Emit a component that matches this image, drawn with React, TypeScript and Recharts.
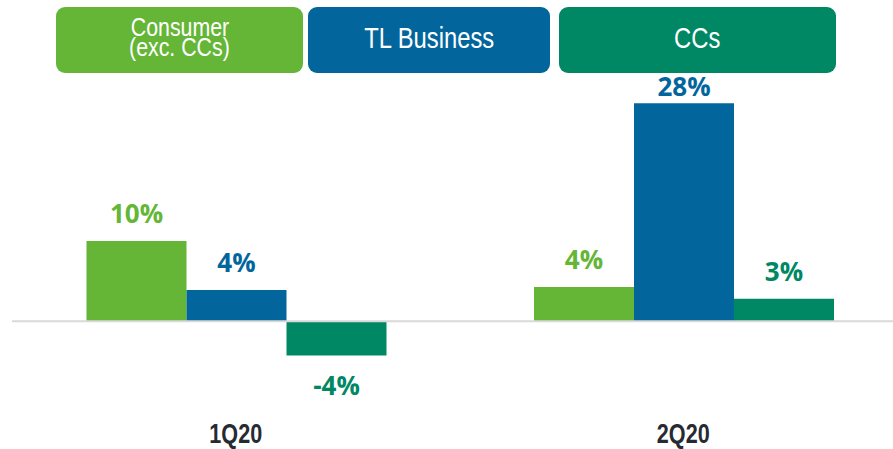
import React from 'react'
import { BarChart, Bar, XAxis, YAxis, ReferenceLine, Legend } from 'recharts'

const QUARTERS = ['1Q20', '2Q20']
const CONSUMER = [10.3, 4.4]
const TL_BUSINESS = [4.0, 28.0]
const CCS = [-4.4, 2.9]
const SERIES_NAMES = ['Consumer\n(exc. CCs)', 'TL Business', 'CCs']

const COLORS = ['#65b637', '#02669c', '#008763']

const data = QUARTERS.map((q, i) => ({
  quarter: q,
  consumer: CONSUMER[i],
  business: TL_BUSINESS[i],
  ccs: CCS[i],
}))

const SANS = '"Liberation Sans", Arial, sans-serif'

const makeLabel = (color: string) => (props: any) => {
  const { x, y, width, height, value } = props
  const top = Math.min(y, y + height)
  const bottom = Math.max(y, y + height)
  const cx = x + width / 2
  // keep positive labels clear of the legend boxes
  const ty = value >= 0 ? Math.max(top - 18, 96) : bottom + 40
  return (
    <text x={cx} y={ty} textAnchor="middle" fill={color} fontFamily='"Open Sans", sans-serif' fontWeight={700} fontSize={26}>
      {`${Math.round(value)}%`}
    </text>
  )
}

const QuarterTick = (props: any) => {
  const { x, payload } = props
  return (
    <text transform={`translate(${x},443) scale(0.8,1)`} x={0} y={0} textAnchor="middle" fill="#262a33" fontFamily={SANS} fontWeight={700} fontSize={27}>
      {payload.value}
    </text>
  )
}

// boxes across the top, laid out by hand like the slide
const BOX_LEFT = [56, 308, 559]
const BOX_WIDTH = [247, 242, 277]

const TopLegend = () => (
  <div style={{ position: 'relative', height: 0 }}>
    {SERIES_NAMES.map((name, i) => {
      const lines = name.split('\n')
      const two = lines.length > 1
      return (
        <div
          key={name}
          style={{
            position: 'absolute', left: BOX_LEFT[i], top: 7, width: BOX_WIDTH[i], height: 66,
            background: COLORS[i], borderRadius: 9, color: '#fff', fontFamily: SANS,
            display: 'flex', flexDirection: 'column', alignItems: 'center', justifyContent: 'center',
            fontSize: two ? 26 : 29, lineHeight: two ? '20px' : '30px', paddingBottom: two ? 6 : 4, boxSizing: 'border-box',
          }}
        >
          {lines.map(l => (
            <span key={l} style={{ display: 'inline-block', transform: 'scaleX(0.82)', whiteSpace: 'nowrap' }}>{l}</span>
          ))}
        </div>
      )
    })}
  </div>
)

export default function App() {
  return (
    <div style={{ position: 'fixed', left: 0, top: 0, width: 893, height: 449, overflow: 'hidden', background: '#fff' }}>
      <BarChart width={907} height={449} data={data} margin={{ top: 80, right: 0, left: 12, bottom: 0 }} barGap={0} barCategoryGap={74.5}>
        <XAxis dataKey="quarter" height={50} axisLine={false} tickLine={false} tick={<QuarterTick />} interval={0} />
        <YAxis hide domain={[-10, 31]} />
        <ReferenceLine y={0} stroke="#d9d9d9" strokeWidth={2} />
        <Legend verticalAlign="top" content={<TopLegend />} wrapperStyle={{ top: 0, left: 0, width: 893, height: 0 }} />
        <Bar dataKey="consumer" fill={COLORS[0]} isAnimationActive={false} label={makeLabel(COLORS[0])} />
        <Bar dataKey="business" fill={COLORS[1]} isAnimationActive={false} label={makeLabel(COLORS[1])} />
        <Bar dataKey="ccs" fill={COLORS[2]} isAnimationActive={false} label={makeLabel(COLORS[2])} />
      </BarChart>
    </div>
  )
}
